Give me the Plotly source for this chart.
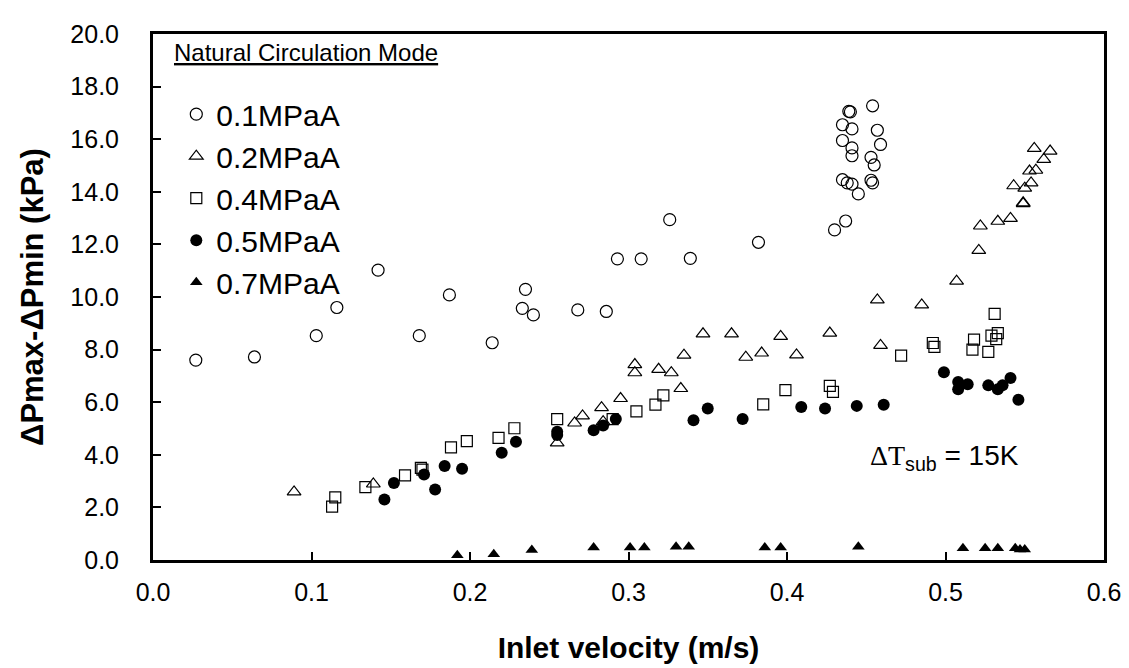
import plotly.graph_objects as go

# 0.1 MPaA (open circles)
x_01 = [0.027, 0.064, 0.103, 0.116, 0.142, 0.168, 0.187, 0.214, 0.235, 0.233, 0.240,
        0.268, 0.286, 0.293, 0.308, 0.326, 0.339, 0.382, 0.430, 0.437, 0.445,
        0.435, 0.438, 0.441, 0.453, 0.454, 0.435, 0.441, 0.441, 0.435, 0.441,
        0.439, 0.440, 0.454, 0.457, 0.459, 0.453, 0.455]
y_01 = [7.60, 7.72, 8.53, 9.60, 11.02, 8.53, 10.08, 8.26, 10.29, 9.57, 9.32,
        9.51, 9.45, 11.45, 11.45, 12.94, 11.47, 12.08, 12.55, 12.89, 13.92,
        14.46, 14.34, 14.29, 14.44, 14.34, 15.95, 15.67, 15.37, 16.55, 16.39,
        17.06, 17.04, 17.27, 16.34, 15.80, 15.31, 15.02]

# 0.2 MPaA (open triangles)
x_02 = [0.089, 0.139, 0.255, 0.266, 0.271, 0.283, 0.284, 0.295, 0.304, 0.304,
        0.319, 0.327, 0.333, 0.335, 0.347, 0.365, 0.374, 0.384, 0.396, 0.406,
        0.427, 0.457, 0.459, 0.485, 0.507, 0.521, 0.522, 0.533, 0.541, 0.543,
        0.549, 0.549, 0.550, 0.554, 0.553, 0.557, 0.562, 0.556, 0.566]
y_02 = [2.59, 2.89, 4.45, 5.21, 5.48, 5.79, 5.26, 6.14, 7.12, 7.43,
        7.25, 7.12, 6.52, 7.79, 8.60, 8.60, 7.71, 7.87, 8.50, 7.80,
        8.63, 9.89, 8.16, 9.70, 10.60, 11.77, 12.70, 12.88, 12.99, 14.23,
        13.58, 13.55, 14.14, 14.34, 14.79, 14.82, 15.23, 15.65, 15.55]

# 0.4 MPaA (open squares)
x_04 = [0.113, 0.115, 0.134, 0.159, 0.169, 0.170, 0.188, 0.198, 0.218, 0.228,
        0.255, 0.290, 0.305, 0.317, 0.322, 0.385, 0.399, 0.427, 0.429, 0.472,
        0.492, 0.493, 0.518, 0.517, 0.527, 0.529, 0.533, 0.532, 0.531]
y_04 = [2.03, 2.38, 2.77, 3.22, 3.50, 3.44, 4.28, 4.52, 4.64, 5.01,
        5.36, 5.36, 5.65, 5.91, 6.26, 5.92, 6.46, 6.62, 6.39, 7.77,
        8.25, 8.10, 8.38, 8.00, 7.91, 8.53, 8.63, 8.40, 9.36]

# 0.5 MPaA (filled circles)
x_05 = [0.146, 0.152, 0.171, 0.178, 0.184, 0.195, 0.220, 0.229, 0.255, 0.255,
        0.278, 0.284, 0.292, 0.341, 0.350, 0.372, 0.409, 0.424, 0.444, 0.461,
        0.499, 0.508, 0.508, 0.514, 0.527, 0.533, 0.536, 0.541, 0.546]
y_05 = [2.30, 2.93, 3.25, 2.68, 3.57, 3.47, 4.08, 4.50, 4.88, 4.75,
        4.93, 5.11, 5.36, 5.31, 5.76, 5.36, 5.82, 5.76, 5.86, 5.90,
        7.14, 6.77, 6.49, 6.68, 6.64, 6.49, 6.64, 6.92, 6.09]

# 0.7 MPaA (filled triangles)
x_07 = [0.192, 0.215, 0.239, 0.278, 0.301, 0.310, 0.330, 0.338, 0.386, 0.396,
        0.445, 0.511, 0.525, 0.533, 0.544, 0.547, 0.550]
y_07 = [0.18, 0.22, 0.38, 0.48, 0.48, 0.48, 0.50, 0.50, 0.48, 0.48,
        0.50, 0.45, 0.45, 0.45, 0.45, 0.40, 0.40]

FONT = "Arial, Liberation Sans, sans-serif"

series = [
    ("0.1MPaA", x_01, y_01, "circle-open", 12, 1.2),
    ("0.2MPaA", x_02, y_02, "triangle-up-open", 12, 1.2),
    ("0.4MPaA", x_04, y_04, "square-open", 11, 1.2),
    ("0.5MPaA", x_05, y_05, "circle", 12, 0),
    ("0.7MPaA", x_07, y_07, "triangle-up", 11, 0),
]

fig = go.Figure()
for i, (name, xs, ys, sym, size, lw) in enumerate(series):
    fig.add_trace(go.Scatter(
        x=xs, y=ys, mode="markers", name=name, legendgroup=f"g{i}",
        marker=dict(symbol=sym, size=size, color="black",
                    line=dict(color="black", width=lw)),
        cliponaxis=False,
    ))

fig.update_layout(
    width=1129, height=668,
    margin=dict(l=145, r=33, t=22, b=116),
    paper_bgcolor="white", plot_bgcolor="white",
    font=dict(family=FONT, color="black", size=25),
    showlegend=True,
    legend=dict(x=0.0245, y=0.897, xanchor="left", yanchor="top",
                bgcolor="rgba(0,0,0,0)", font=dict(size=30, family=FONT),
                tracegroupgap=0, itemwidth=30),
    xaxis=dict(range=[0, 0.6], tickvals=[0, 0.1, 0.2, 0.3, 0.4, 0.5, 0.6],
               tickformat=".1f", ticks="inside", ticklen=8, tickwidth=2,
               tickcolor="black", showline=True, linecolor="black", linewidth=3,
               mirror=True, showgrid=False, zeroline=False,
               ticklabelstandoff=8, tickfont=dict(size=25, family=FONT),
               title=dict(text="<b>Inlet velocity (m/s)</b>", standoff=32,
                          font=dict(size=30, family=FONT))),
    yaxis=dict(range=[0, 20], dtick=2, tickformat=".1f", ticks="inside",
               ticklen=8, tickwidth=2, tickcolor="black", showline=True,
               linecolor="black", linewidth=3, mirror=True, showgrid=False,
               zeroline=False, ticklabelstandoff=26,
               tickfont=dict(size=25, family=FONT),
               title=dict(text="<b>ΔPmax-ΔPmin (kPa)</b>", standoff=18,
                          font=dict(size=31, family=FONT))),
    annotations=[
        dict(text="<u>Natural Circulation Mode</u>", xref="paper", yref="paper",
             x=0.02, y=0.964, xanchor="left", yanchor="middle", showarrow=False,
             font=dict(size=24, family=FONT)),
        dict(text="<span style='font-family:Liberation Serif, Times New Roman, serif'>ΔT</span>"
                  "<sub>sub</sub> = 15K",
             xref="paper", yref="paper", x=0.752, y=0.195, xanchor="left",
             yanchor="middle", showarrow=False, font=dict(size=28, family=FONT)),
    ],
)

fig.write_html("out.html")
